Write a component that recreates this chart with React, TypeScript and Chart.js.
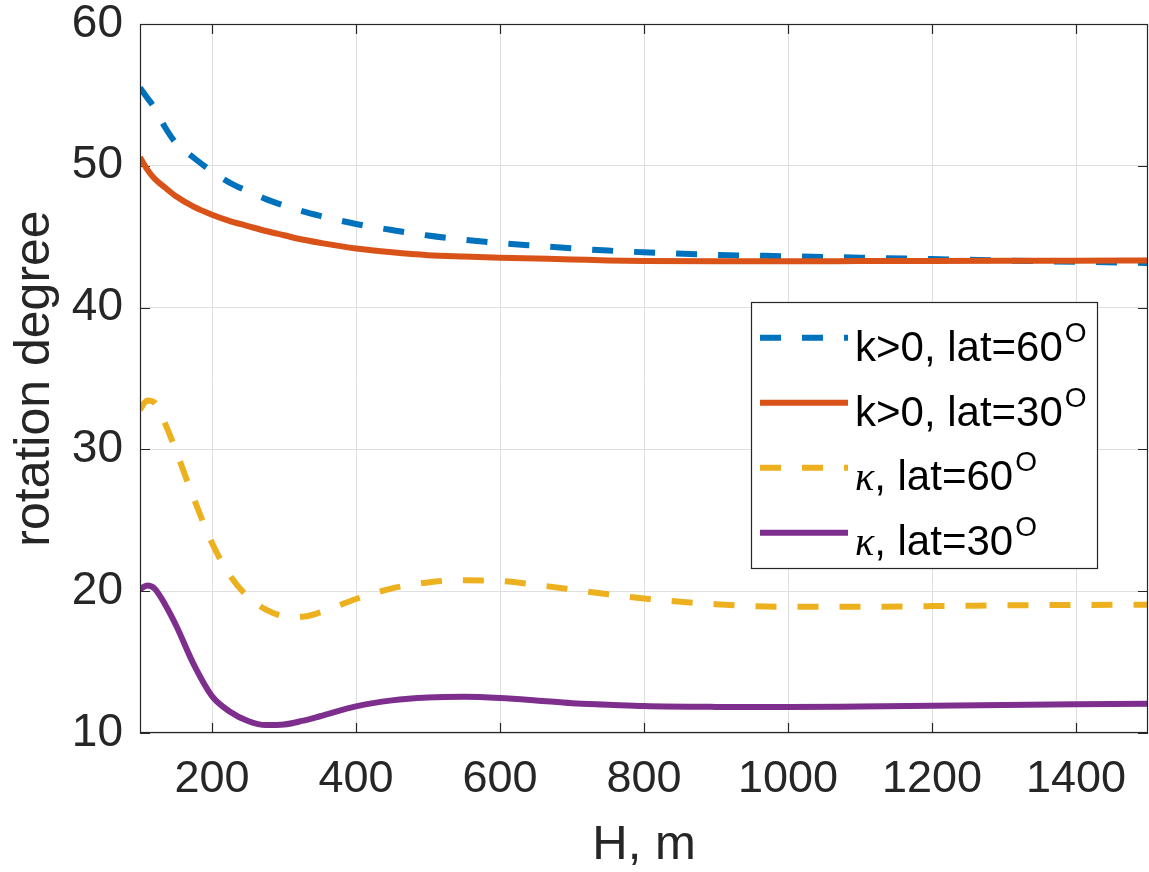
import React, { useEffect, useRef } from 'react';
import { Chart, registerables } from 'chart.js';

Chart.register(...registerables);

// H, m
const H = [100, 110, 120, 135, 150, 175, 200, 225, 250, 275, 300, 325, 350, 400, 450, 500, 550, 600, 650, 700, 750, 800, 900, 1000, 1100, 1200, 1300, 1400, 1500];
// k>0, lat=60
const kPosLat60 = [55.5, 54.8, 54.1, 52.7, 51.6, 50.55, 49.6, 48.8, 48.2, 47.65, 47.2, 46.8, 46.47, 45.9, 45.47, 45.08, 44.78, 44.55, 44.36, 44.18, 44.02, 43.9, 43.72, 43.62, 43.52, 43.42, 43.32, 43.23, 43.15];
// k>0, lat=30
const kPosLat30 = [50.6, 49.75, 49.1, 48.45, 47.85, 47.1, 46.55, 46.1, 45.75, 45.4, 45.1, 44.8, 44.57, 44.17, 43.9, 43.7, 43.6, 43.52, 43.46, 43.4, 43.33, 43.29, 43.27, 43.27, 43.28, 43.29, 43.3, 43.31, 43.33];
// kappa, lat=60
const kappaLat60 = [32.8, 33.45, 33.3, 31.8, 29.9, 26.5, 23.4, 21.1, 19.6, 18.7, 18.25, 18.2, 18.5, 19.45, 20.2, 20.62, 20.77, 20.72, 20.45, 20.12, 19.78, 19.48, 19.08, 18.9, 18.9, 18.95, 19.0, 19.03, 19.05];
// kappa, lat=30
const kappaLat30 = [20.15, 20.4, 20.2, 19.05, 17.6, 14.8, 12.6, 11.5, 10.85, 10.56, 10.6, 10.85, 11.18, 11.88, 12.3, 12.5, 12.55, 12.47, 12.3, 12.1, 12.0, 11.9, 11.84, 11.83, 11.87, 11.92, 11.97, 12.02, 12.07];

const xTicks = [200, 400, 600, 800, 1000, 1200, 1400];
const yTicks = [10, 20, 30, 40, 50, 60];

const legendPrefix = ['k>0', 'k>0', 'κ', 'κ'];
const legendSuffix = [', lat=60', ', lat=30', ', lat=60', ', lat=30'];
const degreeMark = 'O';

const colors = ['#0072BD', '#D95319', '#EDB120', '#7E2F8E'];
const dashes = [[21, 21], [], [21, 21], []];
const seriesValues = [kPosLat60, kPosLat30, kappaLat60, kappaLat30];

const AXIS_COLOR = '#262626';
const SANS = '"Liberation Sans", Arial, Helvetica, sans-serif';

const frameAndTicks = {
  id: 'frameAndTicks',
  beforeDatasetsDraw(chart: any) {
    const { ctx, chartArea: a, scales } = chart;
    ctx.save();
    ctx.strokeStyle = AXIS_COLOR;
    ctx.lineWidth = 1.2;
    const tl = 10;
    ctx.beginPath();
    for (const v of xTicks) {
      const px = Math.round(scales.x.getPixelForValue(v)) + 0.5;
      ctx.moveTo(px, a.bottom); ctx.lineTo(px, a.bottom - tl);
      ctx.moveTo(px, a.top); ctx.lineTo(px, a.top + tl);
    }
    for (const v of yTicks) {
      const py = Math.round(scales.y.getPixelForValue(v)) + 0.5;
      ctx.moveTo(a.left, py); ctx.lineTo(a.left + tl, py);
      ctx.moveTo(a.right, py); ctx.lineTo(a.right - tl, py);
    }
    ctx.stroke();
    ctx.restore();
  },
  afterDatasetsDraw(chart: any) {
    const { ctx, chartArea: a } = chart;
    ctx.save();
    ctx.strokeStyle = AXIS_COLOR;
    ctx.lineWidth = 1.2;
    ctx.strokeRect(a.left + 0.5, a.top + 0.5, a.right - a.left - 1, a.bottom - a.top - 1);
    ctx.restore();
  },
};

const customLegend = {
  id: 'customLegend',
  afterDraw(chart: any) {
    const { ctx } = chart;
    const bx = 751, by = 302, bw = 346, bh = 266;
    ctx.save();
    ctx.fillStyle = '#ffffff';
    ctx.fillRect(bx, by, bw, bh);
    ctx.strokeStyle = AXIS_COLOR;
    ctx.lineWidth = 1.2;
    ctx.strokeRect(bx + 0.5, by + 0.5, bw, bh);
    for (let i = 0; i < legendPrefix.length; i++) {
      const ly = 337.7 + i * 65;
      const base = 361 + i * 64.7;
      ctx.strokeStyle = colors[i];
      ctx.lineWidth = 6;
      ctx.setLineDash(dashes[i]);
      ctx.beginPath();
      ctx.moveTo(760, ly);
      ctx.lineTo(848, ly);
      ctx.stroke();
      ctx.setLineDash([]);
      ctx.fillStyle = '#000000';
      ctx.textBaseline = 'alphabetic';
      ctx.textAlign = 'left';
      let x = 855;
      if (legendPrefix[i] === 'κ') {
        ctx.font = 'italic 40px "Liberation Serif", "DejaVu Serif", serif';
      } else {
        ctx.font = `42px ${SANS}`;
      }
      ctx.fillText(legendPrefix[i], x, base);
      x += ctx.measureText(legendPrefix[i]).width;
      ctx.font = `42px ${SANS}`;
      ctx.fillText(legendSuffix[i], x, base);
      x += ctx.measureText(legendSuffix[i]).width + 2;
      ctx.font = `28px ${SANS}`;
      ctx.fillText(degreeMark, x, base - 19);
    }
    ctx.restore();
  },
};

export default function App() {
  const ref = useRef<HTMLCanvasElement | null>(null);
  useEffect(() => {
    if (!ref.current) return;
    const datasets = seriesValues.map((vals, i) => ({
      label: legendPrefix[i] + legendSuffix[i],
      data: H.map((h, j) => ({ x: h, y: vals[j] })),
      borderColor: colors[i],
      backgroundColor: colors[i],
      borderWidth: 6,
      borderDash: dashes[i],
      pointRadius: 0,
      fill: false,
      cubicInterpolationMode: 'monotone' as const,
      order: 4 - i,
    }));
    const chart = new Chart(ref.current, {
      type: 'line',
      data: { datasets },
      plugins: [frameAndTicks, customLegend],
      options: {
        animation: false,
        responsive: false,
        devicePixelRatio: 1,
        layout: { padding: { top: 24, right: 1, left: 0, bottom: 0 } },
        plugins: { legend: { display: false }, tooltip: { enabled: false } },
        scales: {
          x: {
            type: 'linear',
            min: 100,
            max: 1500,
            afterBuildTicks(scale: any) { scale.ticks = xTicks.map((v) => ({ value: v })); },
            afterFit(scale: any) { scale.height = 139; scale.paddingLeft = 0; scale.paddingRight = 0; },
            grid: { color: '#dfdfdf', lineWidth: 1, drawTicks: false },
            border: { display: false },
            ticks: { color: AXIS_COLOR, font: { size: 45, family: SANS }, padding: 20, maxRotation: 0, autoSkip: false, callback: (v: any) => String(v) },
            title: { display: true, text: 'H, m', color: AXIS_COLOR, font: { size: 49, family: SANS, lineHeight: 1.1 }, padding: { top: 0, bottom: 0 } },
          },
          y: {
            type: 'linear',
            min: 10,
            max: 60,
            afterBuildTicks(scale: any) { scale.ticks = yTicks.map((v) => ({ value: v })); },
            afterFit(scale: any) { scale.width = 140; scale.paddingTop = 0; scale.paddingBottom = 0; },
            grid: { color: '#dfdfdf', lineWidth: 1, drawTicks: false },
            border: { display: false },
            ticks: { color: AXIS_COLOR, font: { size: 46, family: SANS }, padding: 17, callback: (v: any) => String(v) },
            title: { display: true, text: 'rotation degree', color: AXIS_COLOR, font: { size: 50, family: SANS }, padding: { top: 5, bottom: 0 } },
          },
        },
      },
    });
    return () => chart.destroy();
  }, []);
  return (
    <div style={{ position: 'absolute', left: 0, top: 0, width: 1149, height: 872, background: '#fff' }}>
      <canvas ref={ref} width={1149} height={872} style={{ width: 1149, height: 872, display: 'block' }} />
    </div>
  );
}
